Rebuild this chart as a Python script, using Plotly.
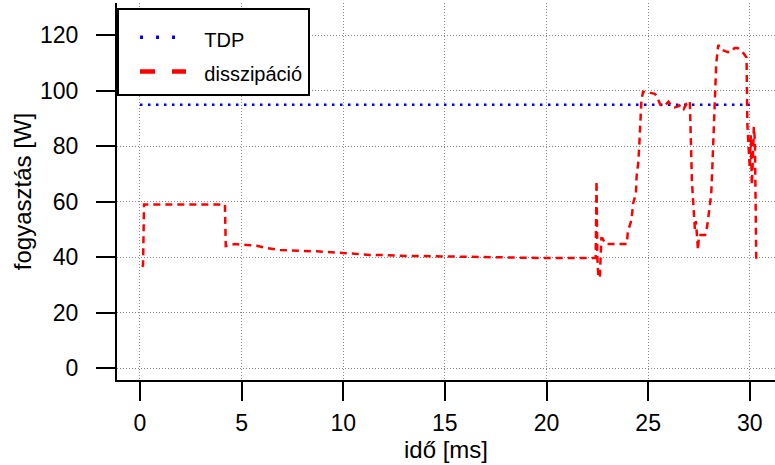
import plotly.graph_objects as go

# TDP level (W) over the time span (ms)
tdp_t = [0.0, 30.0]
tdp_p = [95.0, 95.0]

# dissipation trace: time (ms) and power (W)
diss_t = [0.10, 0.15, 0.20, 0.30, 4.18, 4.22, 4.67, 5.25, 5.74, 6.30, 6.89, 7.38, 8.10, 8.69,
          9.25, 10.00, 10.66, 11.30, 11.90, 12.54, 13.12, 13.67, 14.35, 14.92, 15.40, 16.07,
          16.72, 17.38, 17.95, 18.50, 19.10, 19.76, 20.41, 21.07, 21.70, 22.30, 22.42,
          22.46, 22.50, 22.55, 22.62, 22.70, 22.75, 22.90, 23.10, 23.60, 23.95, 24.00, 24.18,
          24.26, 24.40, 24.43, 24.51, 24.56, 24.59, 24.64, 24.67, 24.75, 24.90, 25.10, 25.30,
          25.40, 25.60, 25.80, 26.00, 26.15, 26.30, 26.50, 26.60, 26.75, 26.90, 27.05, 27.08,
          27.10, 27.15, 27.20, 27.25, 27.30, 27.35, 27.45, 27.50, 27.80, 27.90, 28.00, 28.10,
          28.15, 28.20, 28.25, 28.30, 28.35, 28.45, 28.55, 28.90, 29.10, 29.25, 29.40, 29.70,
          29.84, 29.88, 29.95, 30.00, 30.05, 30.10, 30.15, 30.20, 30.25, 30.28, 30.32]
diss_p = [36.5, 37.0, 59.0, 59.0, 59.0, 44.0, 44.7, 44.4, 44.1, 43.2, 42.6, 42.4, 42.1, 42.1,
          41.9, 41.4, 41.2, 40.8, 40.8, 40.5, 40.4, 40.4, 40.3, 40.2, 40.2, 40.2,
          40.0, 39.8, 39.9, 39.8, 39.8, 39.7, 39.7, 39.7, 39.8, 39.8, 39.7,
          67.5, 40.0, 33.0, 32.5, 46.8, 46.8, 44.7, 44.7, 44.7, 44.7, 49.2, 53.4,
          59.4, 63.0, 69.0, 73.8, 79.9, 85.9, 91.9, 96.7, 99.7, 99.5, 99.5, 99.0,
          98.5, 95.0, 94.5, 96.1, 94.5, 94.0, 94.5, 95.0, 93.5, 95.5, 96.4, 88.0,
          79.0, 68.0, 61.7, 55.0, 50.0, 53.0, 42.6, 48.0, 48.0, 51.0, 56.5, 62.5,
          71.0, 80.0, 90.0, 101.0, 110.0, 116.6, 115.0, 114.0, 114.0, 115.5, 115.5, 113.5,
          112.0, 88.0, 80.0, 72.0, 84.0, 66.0, 75.0, 87.0, 82.0, 64.0, 38.0]

series_names = ["TDP", "disszipáció"]

FONT = "Liberation Sans"
NB = "\u00a0"

fig = go.Figure()
fig.add_trace(go.Scatter(
    x=tdp_t, y=tdp_p, mode="lines", name=series_names[0], showlegend=False,
    line=dict(color="#0000ff", width=2.5, dash="2.5px,5.5px"),
))
fig.add_trace(go.Scatter(
    x=diss_t, y=diss_p, mode="lines", name=series_names[1], showlegend=False,
    line=dict(color="#ff0000", width=2.5, dash="7px,5px"),
))

# legend entries (legend-only, styled like the reference legend keys)
legend_styles = [
    dict(color="#0000ff", width=3.5, dash="3px,13px"),
    dict(color="#ff0000", width=4.5, dash="15px,17px"),
]
for nm, st in zip(series_names, legend_styles):
    fig.add_trace(go.Scatter(
        x=[None], y=[None], mode="lines", line=st,
        name=NB * 2 + f"<span style='font-size:20px'>{nm}</span>",
    ))

axis_common = dict(
    showline=True, linecolor="black", linewidth=2,
    ticks="outside", tickcolor="black", tickwidth=2,
    showgrid=True, gridcolor="#8a8a8a", griddash="1px,2px", gridwidth=1,
    zeroline=False, mirror=False, automargin=False,
    tickfont=dict(family=FONT, size=23, color="black"),
)

fig.update_layout(
    width=775, height=465,
    margin=dict(l=117, r=0, t=3, b=85),
    paper_bgcolor="white", plot_bgcolor="white",
    font=dict(family=FONT, color="black"),
    xaxis=dict(
        range=[-1.13, 31.24], tickvals=[0, 5, 10, 15, 20, 25, 30], ticklen=19,
        ticklabelstandoff=2,
        title=dict(text="idő [ms]", font=dict(family=FONT, size=24), standoff=0),
        **axis_common,
    ),
    yaxis=dict(
        range=[-4.33, 131.7], tickvals=[0, 20, 40, 60, 80, 100, 120], ticklen=19,
        ticklabelstandoff=13,
        title=dict(text="fogyasztás [W]", font=dict(family=FONT, size=24), standoff=2),
        **axis_common,
    ),
    legend=dict(
        x=0, y=1 - 5 / 377, xanchor="left", yanchor="top",
        bgcolor="white", bordercolor="black", borderwidth=2,
        font=dict(family=FONT, size=24), itemwidth=46, indentation=16,
        title=dict(text=NB, font=dict(size=4)),
    ),
    showlegend=True,
)

fig.write_html("out.html", config={"displayModeBar": False},
               post_script="document.body.style.margin='0px';")
